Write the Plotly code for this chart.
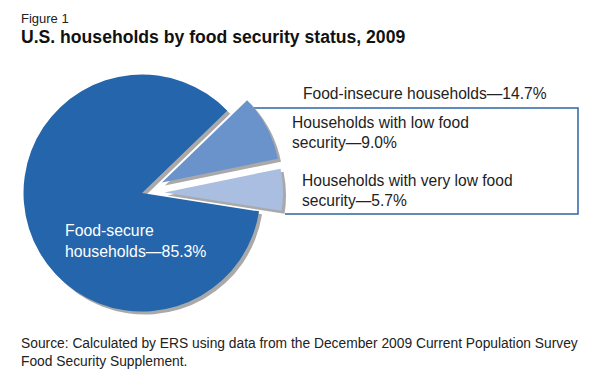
import plotly.graph_objects as go

labels = ["Households with low food security",
          "Households with very low food security",
          "Food-secure households"]
values = [9.0, 5.7, 85.3]
colors = ["#6A93CB", "#A9BEE0", "#2565AB"]
pulls = [0.19, 0.19, 0.0]

W, H = 600, 378
FONT = "Liberation Sans, Arial, Helvetica, sans-serif"


def px(x):
    return x / W


def py(y):
    return 1 - y / H


cx, cy, half = 142, 193, 141


def domain(dx=0, dy=0):
    return dict(x=[px(cx - half + dx), px(cx + half + dx)],
                y=[py(cy + half + dy), py(cy - half + dy)])


fig = go.Figure()
# shadow
fig.add_trace(go.Pie(labels=labels, values=values, sort=False, direction="clockwise",
                     rotation=46, pull=pulls, domain=domain(3, 3),
                     marker=dict(colors=["#A9A9A9"] * 3, line=dict(width=0)),
                     textinfo="none", hoverinfo="skip", showlegend=False))
fig.add_trace(go.Pie(labels=labels, values=values, sort=False, direction="clockwise",
                     rotation=46, pull=pulls, domain=domain(),
                     marker=dict(colors=colors, line=dict(width=0)),
                     textinfo="none", showlegend=False))

box_path = (f"M {px(250)},{py(108)} L {px(578)},{py(108)} "
            f"L {px(578)},{py(214)} L {px(285)},{py(214)}")
fig.add_shape(type="path", path=box_path, xref="paper", yref="paper",
              line=dict(color="#2A66A6", width=1.5), layer="below")

anns = [
    ("Figure 1", 20, 10, 13, "#222"),
    ("<b>U.S. households by food security status, 2009</b>", 20, 26, 17.6, "#111"),
    ("Food-insecure households—14.7%", 302, 84, 15.6, "#222"),
    ("Households with low food<br>security—9.0%", 291, 113, 15.6, "#222"),
    ("Households with very low food<br>security—5.7%", 301, 171, 15.6, "#222"),
    ("Food-secure<br>households—85.3%", 64, 221, 15.8, "white"),
    ("Source: Calculated by ERS using data from the December 2009 Current Population Survey<br>"
     "Food Security Supplement.", 20, 335, 13.8, "#222"),
]
for text, x, y, size, color in anns:
    fig.add_annotation(text=text, x=px(x), y=py(y), xref="paper", yref="paper",
                       xanchor="left", yanchor="top", align="left", showarrow=False,
                       font=dict(family=FONT, size=size, color=color), borderpad=0)

fig.update_layout(width=W, height=H, margin=dict(l=0, r=0, t=0, b=0),
                  paper_bgcolor="white", plot_bgcolor="white",
                  font=dict(family=FONT))
fig.write_html("out.html", config={"displayModeBar": False},
               post_script="document.body.style.margin='0';")
